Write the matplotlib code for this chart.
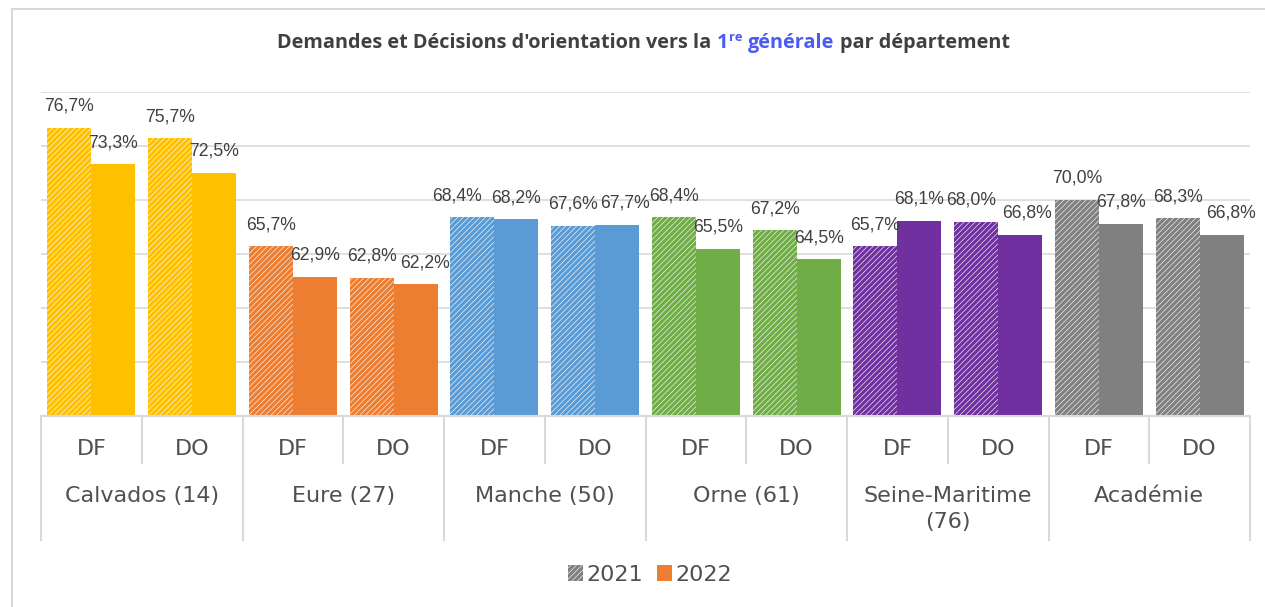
import numpy as np
import matplotlib.pyplot as plt
from matplotlib.patches import Patch
from matplotlib.lines import Line2D

# données
departements = ['Calvados (14)', 'Eure (27)', 'Manche (50)', 'Orne (61)',
                'Seine-Maritime\n(76)', 'Académie']
types = ['DF', 'DO']
val_2021 = [76.7, 75.7, 65.7, 62.8, 68.4, 67.6, 68.4, 67.2, 65.7, 68.0, 70.0, 68.3]
val_2022 = [73.3, 72.5, 62.9, 62.2, 68.2, 67.7, 65.5, 64.5, 68.1, 66.8, 67.8, 66.8]
couleurs = ['#FFC000', '#ED7D31', '#5B9BD5', '#70AD47', '#7030A0', '#808080']

# décalages horizontaux (px) des étiquettes qui se chevaucheraient
decal_2021 = {4: -15, 9: -5}
decal_2022 = {3: 9, 5: 8, 9: 7, 11: 9}

W, H = 1265, 607
fig = plt.figure(figsize=(W / 100, H / 100), dpi=100)
plt.rcParams['hatch.linewidth'] = 2.4

ax = fig.add_axes([41 / W, 1 - 416 / H, (1250 - 41) / W, (416 - 92) / H])
x = np.arange(len(val_2021))
bw = 0.435
grid_c = '#D9D9D9'
txt_c = '#404040'
cat_c = '#505050'
px = 0.72  # px -> points

for i in x:
    c = couleurs[i // 2]
    ax.bar(i - 0.218, val_2021[i] - 50, bottom=50, width=bw, color='white',
           edgecolor=c, hatch='//////', linewidth=0)
    ax.bar(i + 0.218, val_2022[i] - 50, bottom=50, width=bw, color=c, linewidth=0)
    for dx, v, dec in ((-0.218, val_2021[i], decal_2021), (0.218, val_2022[i], decal_2022)):
        ax.annotate(f'{v:.1f}%'.replace('.', ','), xy=(i + dx, v),
                    xytext=(dec.get(i, 0) * px, 9.5), textcoords='offset points',
                    ha='center', va='bottom', fontsize=12.7, color=txt_c,
                    family='Liberation Sans', annotation_clip=False)

ax.set_xlim(-0.5, len(x) - 0.5)
ax.set_ylim(50, 80)
ax.set_yticks(np.arange(50, 81, 5))
ax.yaxis.grid(True, color=grid_c, linewidth=1.2)
ax.set_axisbelow(True)
ax.tick_params(left=False, labelleft=False, bottom=False, labelbottom=False)
for s in ax.spines.values():
    s.set_visible(False)

# axe des catégories à deux niveaux
tr = ax.get_xaxis_transform()
ax.plot([-0.5, len(x) - 0.5], [0, 0], color=grid_c, lw=1.5, transform=tr, clip_on=False)
for b in range(len(x) + 1):
    y_end = -0.383 if b % 2 == 0 else -0.145
    ax.plot([b - 0.5, b - 0.5], [0, y_end], color=grid_c, lw=1.5, transform=tr, clip_on=False)
for i in x:
    ax.text(i, -0.103, types[i % 2], transform=tr, ha='center', va='center',
            fontsize=16, color=cat_c, family='DejaVu Sans')
for j, d in enumerate(departements):
    ax.text(2 * j + 0.5, -0.215, d, transform=tr, ha='center', va='top',
            fontsize=16, color=cat_c, family='DejaVu Sans', linespacing=1.4)

# légende
h1 = Patch(facecolor='white', edgecolor='#808080', hatch='//////', linewidth=0)
h2 = Patch(facecolor='#ED7D31', linewidth=0)
fig.legend([h1, h2], ['2021', '2022'], loc='center', bbox_to_anchor=(650 / W, 1 - 575 / H),
           ncol=2, frameon=False, prop={'family': 'DejaVu Sans', 'size': 16},
           handlelength=0.7, handleheight=0.7, handletextpad=0.15, columnspacing=0.6,
           labelcolor=cat_c)

# titre
kw = dict(fontweight='bold', family='Open Sans', ha='left', va='baseline')
t1 = fig.text(277 / W, 1 - 48 / H, "Demandes et Décisions d'orientation vers la",
              fontsize=14.3, color=txt_c, **kw)
t2 = fig.text(0, 0, '1', fontsize=14.3, color='#4B5BF5', **kw)
t3 = fig.text(0, 0, 're', fontsize=9.5, color='#4B5BF5', **kw)
t4 = fig.text(0, 0, 'générale', fontsize=14.3, color='#4B5BF5', **kw)
t5 = fig.text(0, 0, 'par département', fontsize=14.3, color=txt_c, **kw)

fig.canvas.draw()
r = fig.canvas.get_renderer()
def place(t, prev, gap, dy=0):
    bb = prev.get_window_extent(r)
    t.set_position(((bb.x1 + gap) / W, prev.get_position()[1] + dy / H))
place(t2, t1, 6)
place(t3, t2, 0.5, dy=7)
place(t4, t3, 5, dy=-7)
place(t5, t4, 6)

# cadre du graphique
fig.add_artist(Line2D([12 / W, 12 / W], [0, 1 - 9 / H], color=grid_c, lw=1.5))
fig.add_artist(Line2D([12 / W, 1], [1 - 9 / H, 1 - 9 / H], color=grid_c, lw=1.5))

fig.savefig('out.png', dpi=100)
